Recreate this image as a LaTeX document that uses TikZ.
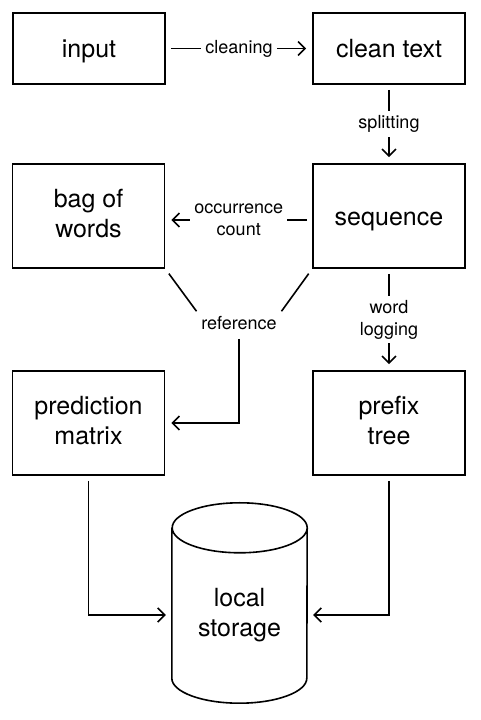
\documentclass[tikz,border=0pt]{standalone}
\usepackage{fontspec}
\setmainfont{TeX Gyre Heros}
\usetikzlibrary{arrows.meta}
\newcommand{\boxstrut}{\rule[-5pt]{0pt}{28.75pt}}
\begin{document}
\begin{tikzpicture}[
    x=1pt, y=1pt,
    stage/.style={draw, rectangle, line width=1.6pt, minimum width=152pt, minimum height=104pt, align=center, font=\fontsize{25}{30}\selectfont, execute at begin node=\boxstrut, execute at end node=\boxstrut},
    flat/.style={stage, minimum height=71pt},
    storebox/.style={rectangle, inner sep=0pt, minimum width=135pt, minimum height=200pt},
    tag/.style={fill=white, inner sep=4pt, align=center, font=\fontsize{18}{22}\selectfont},
    arrow/.style={-{Straight Barb[length=7pt,width=14pt]}, line width=1.6pt, shorten >=6pt, shorten <=5pt},
    link/.style={line width=1.6pt, shorten <=6pt, shorten >=1pt}
]
    \useasboundingbox (0,0) rectangle (480,720);

    % Riga superiore
    \node[flat] (input) at (89,671.5) {input};
    \node[flat] (clean) at (389,671.5) {clean text};

    % Riga centrale
    \node[stage] (bag) at (88.5,504) {bag of\\words};
    \node[stage] (sequence) at (389,504) {sequence};

    % Riga inferiore
    \node[stage] (pred) at (88.5,297) {prediction\\matrix};
    \node[stage] (prefix) at (389,297) {prefix\\tree};

    % Archivio (cilindro)
    \node[storebox] (storage) at (239.5,117) {};
    \draw[line width=1.6pt] ([yshift=-25pt]storage.north west) -- ([yshift=25pt]storage.south west)
        arc[start angle=180, end angle=360, x radius=67.5, y radius=25]
        -- ([yshift=-25pt]storage.north east)
        arc[start angle=0, end angle=360, x radius=67.5, y radius=25];
    \node[font=\fontsize{25}{30}\selectfont, align=center, execute at begin node=\boxstrut, execute at end node=\boxstrut] (storetext) at (239.5,105) {local\\storage};

    % Frecce
    \draw[arrow] (input) -- node[tag] {cleaning} (clean);
    \draw[arrow] (clean) -- node[tag] {splitting} (sequence);
    \draw[arrow] ([yshift=-4pt]sequence.west) -- node[tag] {occurrence\\count} ([yshift=-4pt]bag.east);
    \draw[arrow] (sequence) -- node[tag] {word\\logging} (prefix);

    % Riferimento
    \node[tag] (ref) at (239,397) {reference};
    \draw[link] (bag.south east) -- (ref.north west);
    \draw[link] (sequence.south west) -- (ref.north east);
    \draw[arrow] (ref.south) |- (pred.east);

    % Verso l'archivio
    \draw[arrow] (pred.south) |- (storage.west |- storetext);
    \draw[arrow] (prefix.south) |- (storage.east |- storetext);

\end{tikzpicture}
\end{document}
